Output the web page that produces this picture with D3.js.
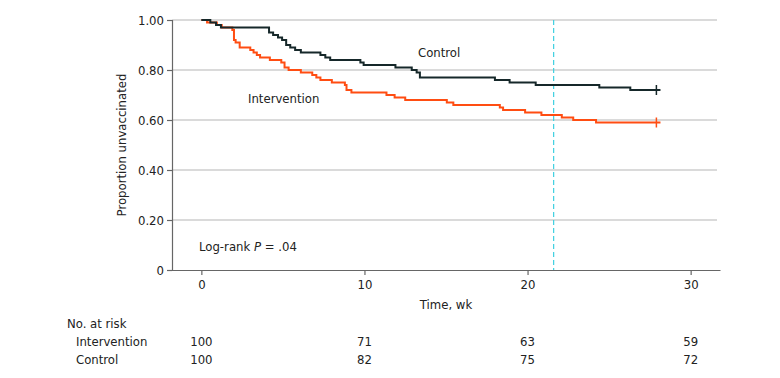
<!DOCTYPE html>
<html>
<head>
<meta charset="utf-8">
<script src="https://cdn.jsdelivr.net/npm/d3@7"></script>
<style>
  body { margin: 0; background: #fff; }
  svg text { font-family: "Liberation Sans Narrow", "DejaVu Sans Condensed", sans-serif; font-size: 13px; fill: #222; }
</style>
</head>
<body>
<svg width="780" height="378"></svg>
<script>
// step times (weeks) and survival proportions
var interventionTimes = [0, 0.35, 0.95, 1.25, 1.9, 2.0, 2.1, 2.35, 3.0, 3.2, 3.4, 3.6, 4.2, 4.9, 5.1, 5.35, 6.1, 6.8, 7.05, 7.3, 8.0, 8.8, 8.9, 9.2, 11.35, 11.85, 12.5, 15.05, 15.45, 18.3, 18.5, 19.85, 20.85, 22.1, 22.8, 24.2];
var interventionSurv  = [1.00, 0.99, 0.98, 0.97, 0.96, 0.92, 0.91, 0.89, 0.88, 0.87, 0.86, 0.85, 0.84, 0.83, 0.81, 0.80, 0.79, 0.78, 0.77, 0.76, 0.75, 0.74, 0.72, 0.71, 0.70, 0.69, 0.68, 0.67, 0.66, 0.65, 0.64, 0.63, 0.62, 0.61, 0.60, 0.59];
var controlTimes = [0, 0.55, 0.9, 1.2, 4.15, 4.4, 4.7, 4.95, 5.2, 5.45, 5.75, 6.1, 6.4, 7.3, 7.6, 7.9, 9.75, 9.95, 11.9, 12.9, 13.2, 13.4, 18.0, 18.9, 20.5, 24.4, 26.3];
var controlSurv  = [1.00, 0.99, 0.98, 0.97, 0.95, 0.94, 0.93, 0.92, 0.90, 0.89, 0.88, 0.87, 0.87, 0.86, 0.85, 0.84, 0.83, 0.82, 0.81, 0.80, 0.79, 0.77, 0.76, 0.75, 0.74, 0.73, 0.72];
var followUpEnd = 27.9;
var refLine = 21.6;

var xTicks = [0, 10, 20, 30];
var yTicks = [0, 0.2, 0.4, 0.6, 0.8, 1.0];
var riskGroups = ["Intervention", "Control"];
var riskIntervention = [100, 71, 63, 59];
var riskControl = [100, 82, 75, 72];

var svg = d3.select("svg");

var x = d3.scaleLinear().domain([-1.8, 31.8]).range([172, 720]);
var y = d3.scaleLinear().domain([0, 1]).range([270, 20]);

// gridlines
svg.append("g").selectAll("line")
    .data(yTicks.filter(function(d) { return d > 0; }))
  .enter().append("line")
    .attr("x1", 172).attr("x2", 717)
    .attr("y1", function(d) { return y(d); })
    .attr("y2", function(d) { return y(d); })
    .attr("stroke", "#b5b5b5").attr("stroke-width", 1.2);

// dashed reference line
svg.append("line")
    .attr("x1", x(refLine)).attr("x2", x(refLine))
    .attr("y1", y(1)).attr("y2", y(0))
    .attr("stroke", "#3fd0e0").attr("stroke-width", 1.2)
    .attr("stroke-dasharray", "5,3");

// axes
var yAxis = svg.append("g")
    .attr("transform", "translate(172,0)")
    .call(d3.axisLeft(y).tickValues(yTicks).tickSize(5).tickPadding(3)
      .tickFormat(function(d) { return d === 0 ? "0" : d.toFixed(2); }));

var xAxis = svg.append("g")
    .attr("transform", "translate(0,270)")
    .call(d3.axisBottom(x).tickValues(xTicks).tickSize(5).tickPadding(5).tickSizeOuter(0));

[yAxis, xAxis].forEach(function(a) {
  a.selectAll("path, line").attr("stroke", "#666").attr("stroke-width", 1.2);
  a.selectAll("text").attr("font-size", 13).attr("fill", "#222")
    .attr("font-family", null);
});

// KM curves
var line = d3.line()
    .x(function(d) { return x(d[0]); })
    .y(function(d) { return y(d[1]); })
    .curve(d3.curveStepAfter);

function drawCurve(times, surv, color) {
  var pts = times.map(function(t, i) { return [t, surv[i]]; });
  pts.push([followUpEnd + 0.25, surv[surv.length - 1]]);
  svg.append("path")
      .datum(pts)
      .attr("fill", "none")
      .attr("stroke", color)
      .attr("stroke-width", 2)
      .attr("d", line);
  var last = surv[surv.length - 1];
  svg.append("line")
      .attr("x1", x(followUpEnd)).attr("x2", x(followUpEnd))
      .attr("y1", y(last) - 5).attr("y2", y(last) + 5)
      .attr("stroke", color).attr("stroke-width", 1.5);
}

drawCurve(interventionTimes, interventionSurv, "#ff4d12");
drawCurve(controlTimes, controlSurv, "#16282a");

// in-plot labels
svg.append("text").attr("x", 418).attr("y", 57).text("Control");
svg.append("text").attr("x", 248).attr("y", 103).text("Intervention");

var lr = svg.append("text").attr("x", 199).attr("y", 251);
lr.append("tspan").text("Log-rank ");
lr.append("tspan").attr("font-style", "italic").text("P");
lr.append("tspan").text(" = .04");

// axis titles
svg.append("text")
    .attr("transform", "translate(126,145) rotate(-90)")
    .attr("text-anchor", "middle")
    .text("Proportion unvaccinated");

svg.append("text")
    .attr("x", x(15)).attr("y", 309)
    .attr("text-anchor", "middle")
    .text("Time, wk");

// number at risk table
svg.append("text").attr("x", 67).attr("y", 328).text("No. at risk");

var riskRows = [riskIntervention, riskControl];
riskGroups.forEach(function(g, i) {
  var ry = 346 + i * 18;
  svg.append("text").attr("x", 76).attr("y", ry).text(g);
  svg.append("g").selectAll("text")
      .data(riskRows[i])
    .enter().append("text")
      .attr("x", function(d, j) { return x(xTicks[j]); })
      .attr("y", ry)
      .attr("text-anchor", "middle")
      .text(function(d) { return d; });
});
</script>
</body>
</html>
